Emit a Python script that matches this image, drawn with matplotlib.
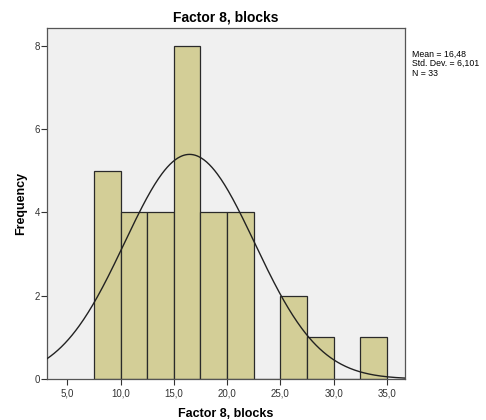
import matplotlib
matplotlib.use("Agg")
import matplotlib.pyplot as plt
import numpy as np

plt.rcParams['font.family'] = ['Liberation Sans', 'DejaVu Sans']

# histogram data (bin width 2.5)
bin_edges = [7.5, 10.0, 12.5, 15.0, 17.5, 20.0, 22.5, 25.0, 27.5, 30.0, 32.5, 35.0]
counts = [5, 4, 4, 8, 4, 4, 0, 2, 1, 0, 1]
mean = 16.48
std_dev = 6.101
n = 33
xticks = [5, 10, 15, 20, 25, 30, 35]
xtick_labels = ["5,0", "10,0", "15,0", "20,0", "25,0", "30,0", "35,0"]
yticks = [0, 2, 4, 6, 8]

fig = plt.figure(figsize=(4.86, 4.2), dpi=100)
ax = fig.add_axes([0.0967, 0.0976, 0.7366, 0.8357])
ax.set_facecolor("#f0f0f0")

lefts = np.array(bin_edges[:-1])
widths = np.diff(bin_edges)
ax.bar(lefts, counts, width=widths, align="edge", color="#d3ce97",
       edgecolor="#2a2a2a", linewidth=0.9, zorder=2)

# fitted normal curve scaled to counts
xs = np.linspace(3.1, 36.7, 400)
bw = bin_edges[1] - bin_edges[0]
ys = n * bw / (std_dev * np.sqrt(2 * np.pi)) * np.exp(-0.5 * ((xs - mean) / std_dev) ** 2)
ax.plot(xs, ys, color="#222222", linewidth=1.0, zorder=3)

ax.set_xlim(3.1, 36.7)
ax.set_ylim(0, 8.43)
ax.set_xticks(xticks)
ax.set_xticklabels(xtick_labels)
ax.set_yticks(yticks)
ax.tick_params(labelsize=7, colors="#333333", length=4.2, width=0.8)
ax.tick_params(axis="x", pad=2.5)
ax.tick_params(axis="y", pad=0.8)
for s in ax.spines.values():
    s.set_color("#555555")
    s.set_linewidth(0.9)

ax.set_title("Factor 8, blocks", fontsize=10, fontweight="bold", pad=5)
ax.set_xlabel("Factor 8, blocks", fontsize=9, fontweight="bold", labelpad=7)
ax.set_ylabel("Frequency", fontsize=9, fontweight="bold", labelpad=5.5)

fig.text(0.848, 0.882, "Mean = %s\nStd. Dev. = %s\nN = %d" % ("16,48", "6,101", n),
         fontsize=6.3, va="top", ha="left", linespacing=1.1)

fig.savefig("out.png", dpi=100)
